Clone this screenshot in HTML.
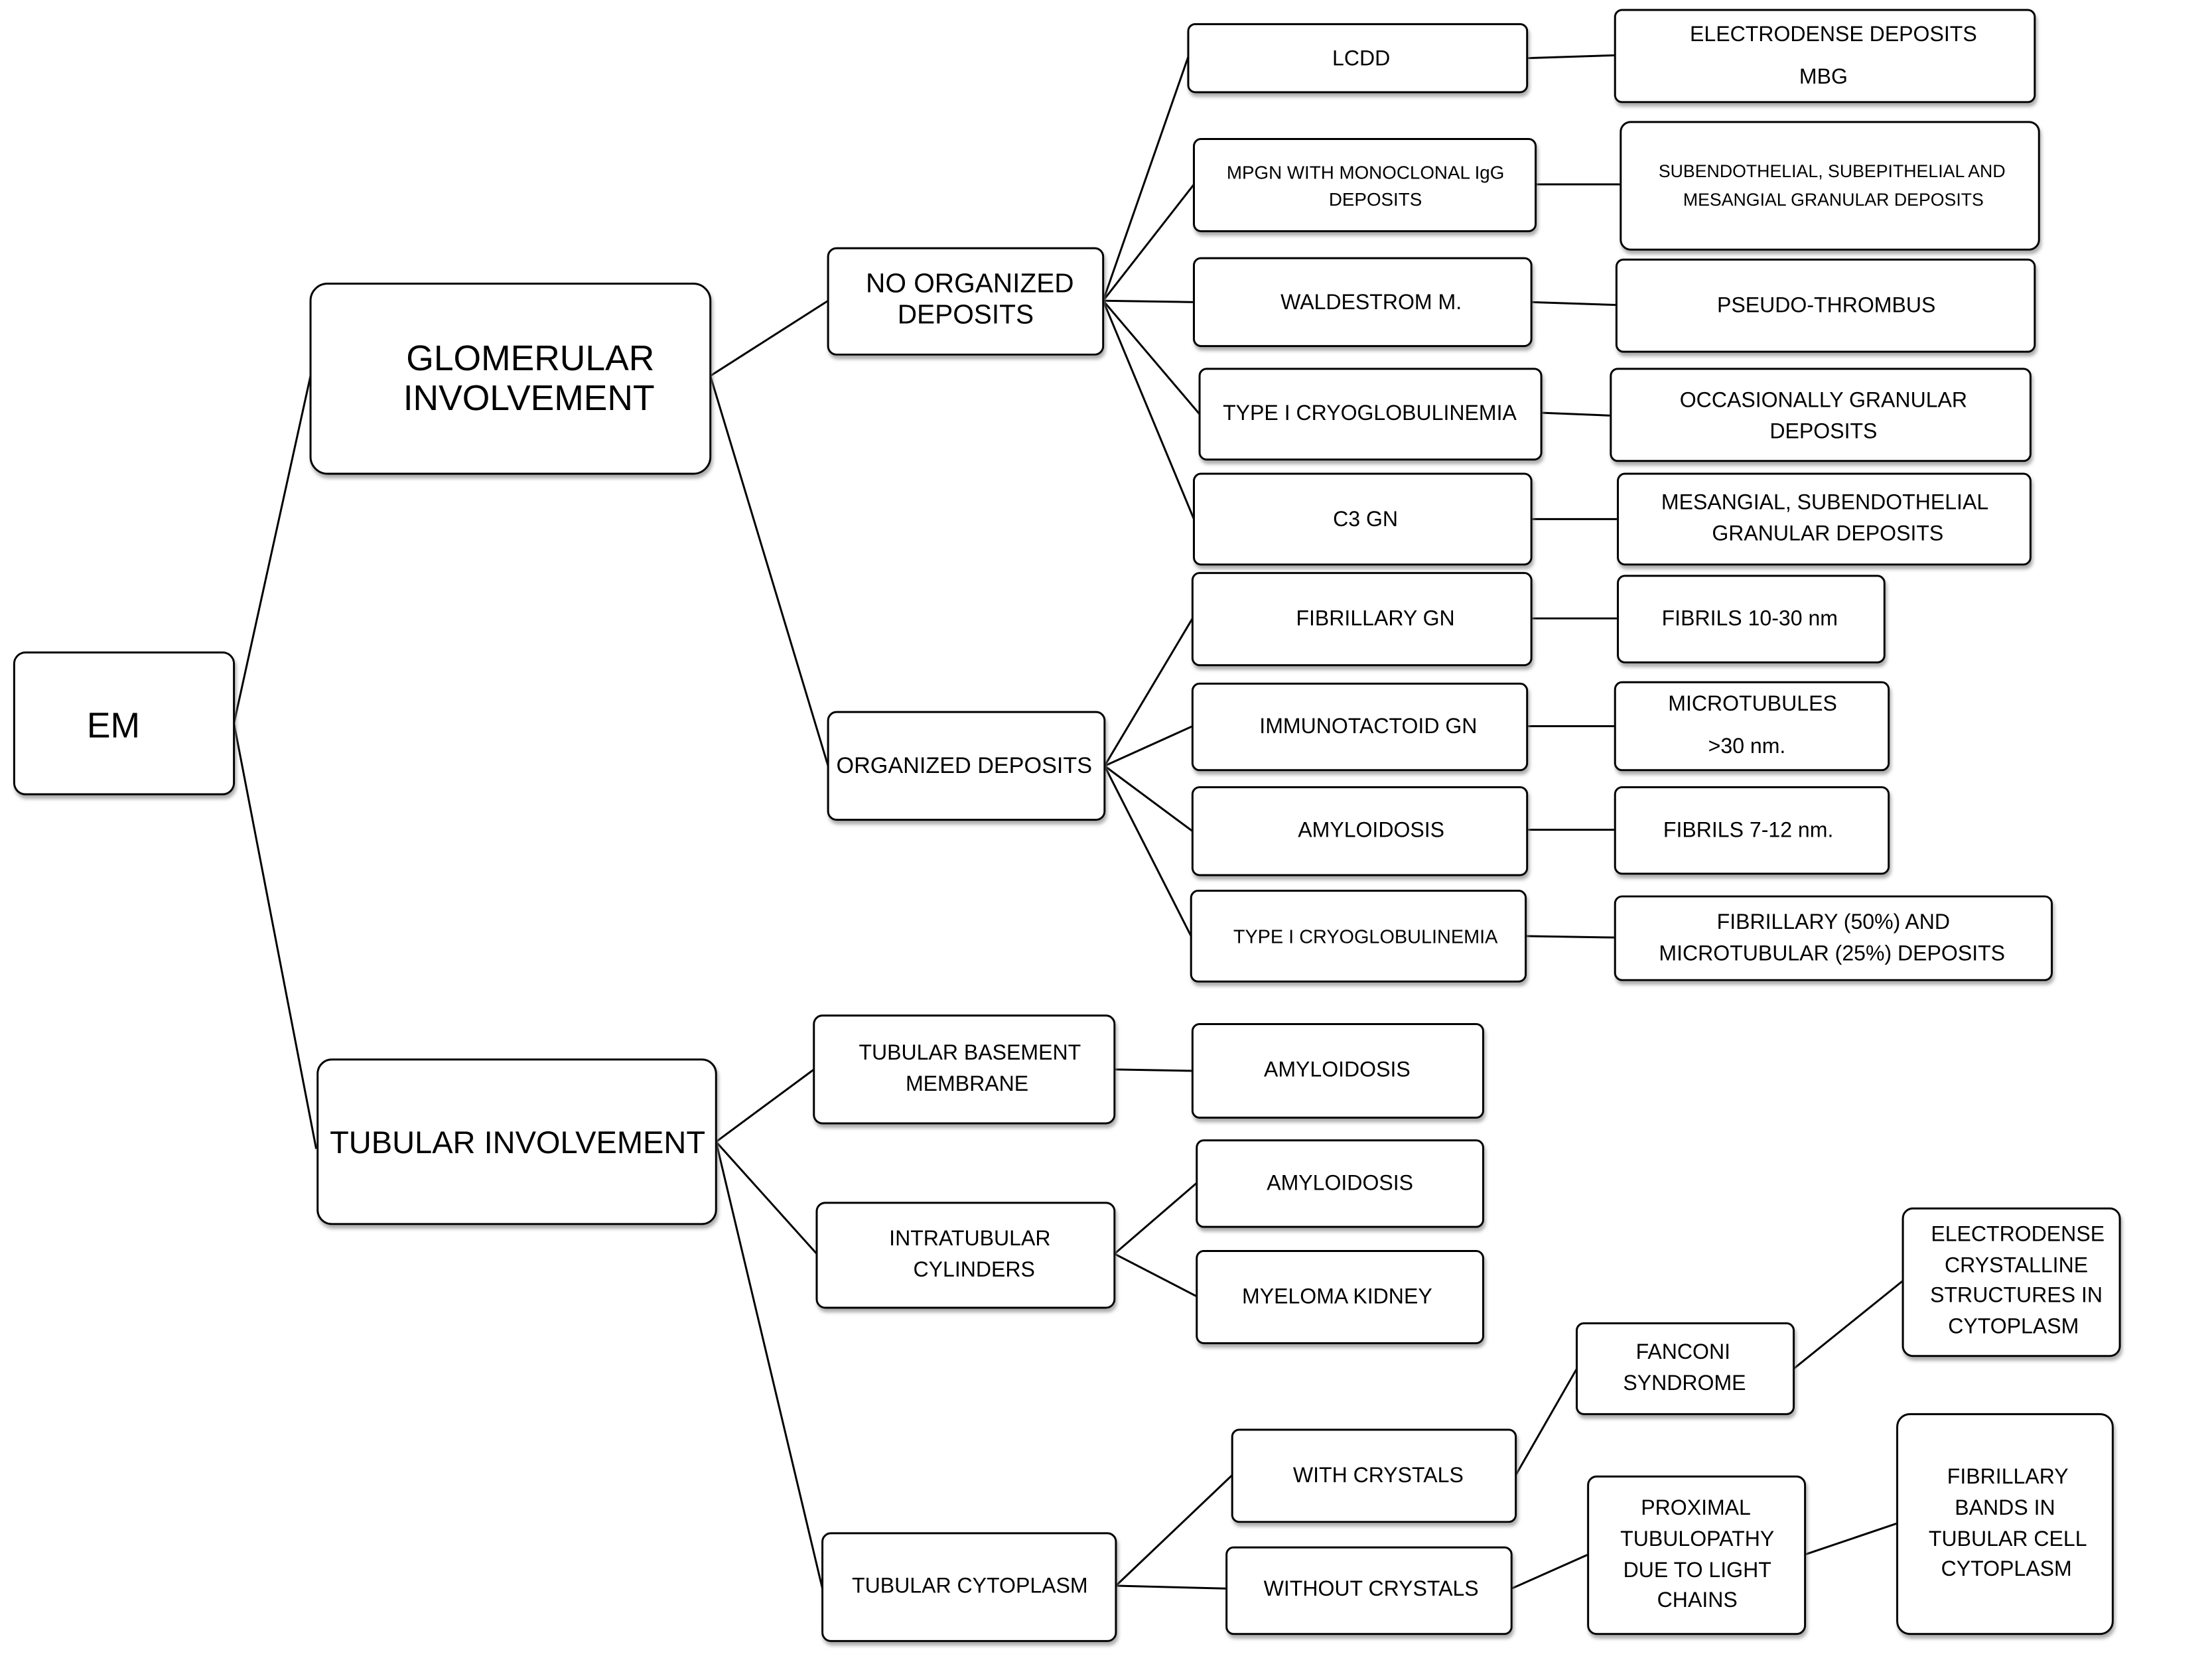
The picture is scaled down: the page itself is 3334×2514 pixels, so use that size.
<!DOCTYPE html>
<html><head><meta charset="utf-8"><style>
html,body{margin:0;padding:0;background:#fff;}
svg{display:block;}
text{font-family:"Liberation Sans",Arial,sans-serif;fill:#000;text-anchor:middle;}
</style></head><body>
<svg width="3334" height="2514" viewBox="0 0 1560 1176" preserveAspectRatio="none" xmlns="http://www.w3.org/2000/svg">
<defs><filter id="sh" x="-5%" y="-5%" width="115%" height="125%"><feDropShadow dx="1" dy="2.5" stdDeviation="1.2" flood-color="#888" flood-opacity="0.7"/></filter></defs>
<g stroke="#000" stroke-width="1.4" fill="none">
<line x1="165" y1="510" x2="219" y2="265"/><line x1="165" y1="510" x2="223" y2="810"/>
<line x1="501" y1="265" x2="584" y2="212"/><line x1="501" y1="265" x2="584" y2="540"/>
<line x1="778" y1="212" x2="838" y2="40"/><line x1="778" y1="212" x2="842" y2="130"/><line x1="778" y1="212" x2="842" y2="213"/><line x1="778" y1="212" x2="846" y2="292"/><line x1="778" y1="212" x2="842" y2="366"/>
<line x1="779" y1="540" x2="841" y2="436"/><line x1="779" y1="540" x2="841" y2="512"/><line x1="779" y1="540" x2="841" y2="586"/><line x1="779" y1="540" x2="840" y2="660"/>
<line x1="1077" y1="41" x2="1139" y2="39"/><line x1="1083" y1="130" x2="1143" y2="130"/><line x1="1080" y1="213" x2="1140" y2="215"/><line x1="1087" y1="291" x2="1136" y2="293"/><line x1="1080" y1="366" x2="1141" y2="366"/>
<line x1="1080" y1="436" x2="1141" y2="436"/><line x1="1077" y1="512" x2="1139" y2="512"/><line x1="1077" y1="585" x2="1139" y2="585"/><line x1="1076" y1="660" x2="1139" y2="661"/>
<line x1="505" y1="805" x2="574" y2="754"/><line x1="505" y1="805" x2="576" y2="884"/><line x1="505" y1="805" x2="580" y2="1120"/>
<line x1="786" y1="754" x2="841" y2="755"/><line x1="786" y1="884" x2="844" y2="834"/><line x1="786" y1="884" x2="844" y2="914"/>
<line x1="787" y1="1118" x2="869" y2="1040"/><line x1="787" y1="1118" x2="865" y2="1120"/>
<line x1="1069" y1="1040" x2="1112" y2="965"/><line x1="1066" y1="1120" x2="1120" y2="1096"/><line x1="1265" y1="965" x2="1342" y2="903"/><line x1="1273" y1="1096" x2="1338" y2="1074"/>
</g>
<g stroke="#000" stroke-width="1.4" fill="#fff" filter="url(#sh)">
<rect x="10" y="460" width="155" height="100" rx="8"/>
<rect x="219" y="200" width="282" height="134" rx="12"/>
<rect x="224" y="747" width="281" height="116" rx="10"/>
<rect x="584" y="175" width="194" height="75" rx="6"/>
<rect x="584" y="502" width="195" height="76" rx="6"/>
<rect x="838" y="17" width="239" height="48" rx="5"/>
<rect x="842" y="98" width="241" height="65" rx="5"/>
<rect x="842" y="182" width="238" height="62" rx="5"/>
<rect x="846" y="260" width="241" height="64" rx="5"/>
<rect x="842" y="334" width="238" height="64" rx="5"/>
<rect x="841" y="404" width="239" height="65" rx="5"/>
<rect x="841" y="482" width="236" height="61" rx="5"/>
<rect x="841" y="555" width="236" height="62" rx="5"/>
<rect x="840" y="628" width="236" height="64" rx="5"/>
<rect x="1139" y="7" width="296" height="65" rx="5"/>
<rect x="1143" y="86" width="295" height="90" rx="7"/>
<rect x="1140" y="183" width="295" height="65" rx="5"/>
<rect x="1136" y="260" width="296" height="65" rx="5"/>
<rect x="1141" y="334" width="291" height="64" rx="5"/>
<rect x="1141" y="406" width="188" height="61" rx="5"/>
<rect x="1139" y="481" width="193" height="62" rx="5"/>
<rect x="1139" y="555" width="193" height="61" rx="5"/>
<rect x="1139" y="632" width="308" height="59" rx="5"/>
<rect x="574" y="716" width="212" height="76" rx="6"/>
<rect x="841" y="722" width="205" height="66" rx="5"/>
<rect x="576" y="848" width="210" height="74" rx="6"/>
<rect x="844" y="804" width="202" height="61" rx="5"/>
<rect x="844" y="882" width="202" height="65" rx="5"/>
<rect x="580" y="1081" width="207" height="76" rx="6"/>
<rect x="869" y="1008" width="200" height="65" rx="5"/>
<rect x="865" y="1091" width="201" height="61" rx="5"/>
<rect x="1112" y="933" width="153" height="64" rx="5"/>
<rect x="1120" y="1041" width="153" height="111" rx="6"/>
<rect x="1342" y="852" width="153" height="104" rx="7"/>
<rect x="1338" y="997" width="152" height="155" rx="9"/>
</g>
<g font-size="15">
<text x="80" y="520" font-size="25">EM</text>
<text x="374" y="261" font-size="25">GLOMERULAR</text><text x="373" y="289" font-size="25">INVOLVEMENT</text>
<text x="365" y="813" font-size="22">TUBULAR INVOLVEMENT</text>
<text x="684" y="206" font-size="19">NO ORGANIZED</text><text x="681" y="228" font-size="19">DEPOSITS</text>
<text x="680" y="545" font-size="16">ORGANIZED DEPOSITS</text>
<text x="960" y="46">LCDD</text>
<text x="963" y="126" font-size="13">MPGN WITH MONOCLONAL IgG</text><text x="970" y="145" font-size="13">DEPOSITS</text>
<text x="967" y="218">WALDESTROM M.</text>
<text x="966" y="296">TYPE I CRYOGLOBULINEMIA</text>
<text x="963" y="371">C3 GN</text>
<text x="970" y="441">FIBRILLARY GN</text>
<text x="965" y="517">IMMUNOTACTOID GN</text>
<text x="967" y="590">AMYLOIDOSIS</text>
<text x="963" y="665" font-size="13.5">TYPE I CRYOGLOBULINEMIA</text>
<text x="1293" y="29">ELECTRODENSE DEPOSITS</text><text x="1286" y="59">MBG</text>
<text x="1292" y="125" font-size="12.5">SUBENDOTHELIAL, SUBEPITHELIAL AND</text><text x="1293" y="145" font-size="12.5">MESANGIAL GRANULAR DEPOSITS</text>
<text x="1288" y="220">PSEUDO-THROMBUS</text>
<text x="1286" y="287">OCCASIONALLY GRANULAR</text><text x="1286" y="309">DEPOSITS</text>
<text x="1287" y="359">MESANGIAL, SUBENDOTHELIAL</text><text x="1289" y="381">GRANULAR DEPOSITS</text>
<text x="1234" y="441">FIBRILS  10-30 nm</text>
<text x="1236" y="501">MICROTUBULES</text><text x="1232" y="531">&gt;30 nm.</text>
<text x="1233" y="590">FIBRILS  7-12 nm.</text>
<text x="1293" y="655">FIBRILLARY (50%) AND</text><text x="1292" y="677">MICROTUBULAR (25%) DEPOSITS</text>
<text x="684" y="747">TUBULAR BASEMENT</text><text x="682" y="769">MEMBRANE</text>
<text x="943" y="759">AMYLOIDOSIS</text>
<text x="684" y="878">INTRATUBULAR</text><text x="687" y="900">CYLINDERS</text>
<text x="945" y="839">AMYLOIDOSIS</text>
<text x="943" y="919">MYELOMA  KIDNEY</text>
<text x="684" y="1123">TUBULAR CYTOPLASM</text>
<text x="972" y="1045">WITH CRYSTALS</text>
<text x="967" y="1125">WITHOUT CRYSTALS</text>
<text x="1187" y="958">FANCONI</text><text x="1188" y="980">SYNDROME</text>
<text x="1196" y="1068">PROXIMAL</text><text x="1197" y="1090">TUBULOPATHY</text><text x="1197" y="1112">DUE TO LIGHT</text><text x="1197" y="1133">CHAINS</text>
<text x="1423" y="875">ELECTRODENSE</text><text x="1422" y="897">CRYSTALLINE</text><text x="1422" y="918">STRUCTURES  IN</text><text x="1420" y="940">CYTOPLASM</text>
<text x="1416" y="1046">FIBRILLARY</text><text x="1414" y="1068">BANDS IN</text><text x="1416" y="1090">TUBULAR CELL</text><text x="1415" y="1111">CYTOPLASM</text>
</g>
</svg>
</body></html>
